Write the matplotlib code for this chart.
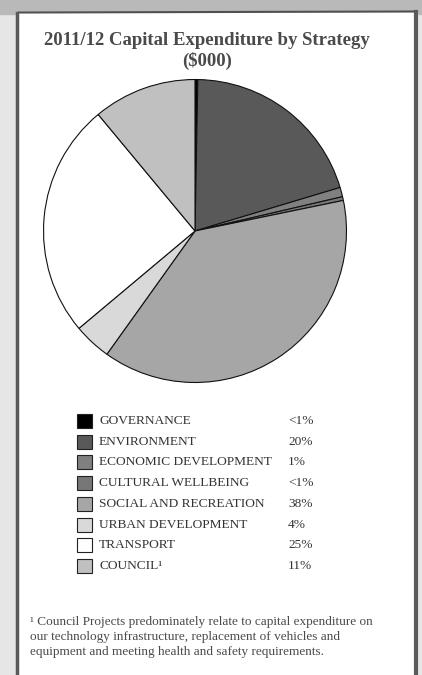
import matplotlib
matplotlib.use("Agg")
import matplotlib.pyplot as plt
from matplotlib.patches import Rectangle

plt.rcParams["font.family"] = ["Liberation Serif", "DejaVu Serif"]

# Kapitalutgifter etter strategi (andel i %)
strategies = ["GOVERNANCE", "ENVIRONMENT", "ECONOMIC DEVELOPMENT", "CULTURAL WELLBEING",
              "SOCIAL AND RECREATION", "URBAN DEVELOPMENT", "TRANSPORT", "COUNCIL¹"]
shares = [0.3, 20, 1, 0.4, 38, 4, 25, 11]
share_labels = ["<1%", "20%", "1%", "<1%", "38%", "4%", "25%", "11%"]
colors = ["#000000", "#595959", "#808080", "#777777", "#a6a6a6", "#d9d9d9", "#ffffff", "#c0c0c0"]

title = "2011/12 Capital Expenditure by Strategy\n($000)"
footnote = ("¹ Council Projects predominately relate to capital expenditure on\n"
            "our technology infrastructure, replacement of vehicles and\n"
            "equipment and meeting health and safety requirements.")

W, H = 422, 675
fig = plt.figure(figsize=(W / 100, H / 100), dpi=100)

# Bakgrunn i pikselkoordinater
bg = fig.add_axes([0, 0, 1, 1])
bg.set_xlim(0, W)
bg.set_ylim(H, 0)
bg.axis("off")
bg.add_patch(Rectangle((0, 0), W, H, color="#e6e6e6", zorder=0))
bg.add_patch(Rectangle((0, 0), W, 14, color="#b9b9b9", zorder=1))
bg.add_patch(Rectangle((17, 12), 400, H, color="white", zorder=2))
bg.plot([19, 417], [12.5, 11.5], color="#505050", lw=1.5, zorder=3)
bg.plot([17, 17], [13, H], color="#5a5a5a", lw=2.5, zorder=3)
bg.plot([416, 416], [12, H], color="#5a5a5a", lw=3, zorder=3)

bg.text(207, 51, title, ha="center", va="center", fontsize=13.5, fontweight="bold",
        color="#4a4a4a", linespacing=1.2, zorder=4)

# Forklaring
row0, step = 421, 20.7
for i, (name, lab, c) in enumerate(zip(strategies, share_labels, colors)):
    y = row0 + i * step
    bg.add_patch(Rectangle((77, y - 7), 15, 14, facecolor=c, edgecolor="#222222", lw=0.8, zorder=4))
    bg.text(99, y, name, ha="left", va="center", fontsize=9.6, color="#333333", zorder=4)
    bg.text(288, y, lab, ha="left", va="center", fontsize=9.6, color="#333333", zorder=4)

bg.text(30, 637, footnote, ha="left", va="center", fontsize=9.5, color="#4a4a4a",
        linespacing=1.32, zorder=4)

# Kakediagram
cx, cy, r = 195, 231, 153
ax = fig.add_axes([(cx - r) / W, 1 - (cy + r) / H, 2 * r / W, 2 * r / H])
ax.pie(shares, colors=colors, startangle=90, counterclock=False,
       wedgeprops={"edgecolor": "#111111", "linewidth": 0.8})
ax.set_xlim(-1.01, 1.01)
ax.set_ylim(-1.01, 1.01)
ax.set_aspect("equal")
ax.axis("off")

fig.savefig("out.png", dpi=100)
